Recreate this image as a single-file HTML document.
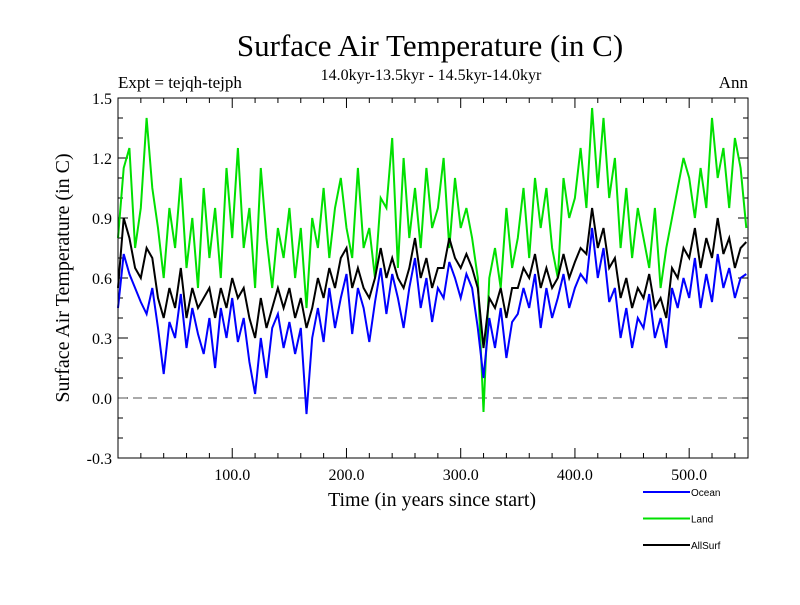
<!DOCTYPE html>
<html><head><meta charset="utf-8"><style>
body{margin:0;background:#fff}
svg text{font-family:"Liberation Serif",serif}
</style></head><body>
<svg id="chart" width="800" height="600" xmlns="http://www.w3.org/2000/svg">
<rect width="800" height="600" fill="#fff"/>
<text x="430" y="56" font-size="31" text-anchor="middle">Surface Air Temperature (in C)</text>
<text x="431" y="80" font-size="16" text-anchor="middle">14.0kyr-13.5kyr - 14.5kyr-14.0kyr</text>
<text x="118" y="88" font-size="17">Expt = tejqh-tejph</text>
<text x="748" y="88" font-size="17" text-anchor="end">Ann</text>
<text x="432" y="506" font-size="20" text-anchor="middle">Time (in years since start)</text>
<text transform="translate(69,278) rotate(-90)" font-size="20" text-anchor="middle">Surface Air Temperature (in C)</text>
<g id="ticks"></g>
<g id="series"></g>
<rect x="118" y="98" width="630" height="360" fill="none" stroke="#000" stroke-width="1"/>
<g id="legend"></g>
</svg>
<script>
const years = [];
for (let i = 0; i <= 110; i++) years.push(i * 5);
const ocean = [0.45,0.72,0.62,0.55,0.48,0.42,0.55,0.35,0.12,0.38,
0.30,0.52,0.25,0.45,0.32,0.22,0.40,0.15,0.45,0.30,
0.50,0.28,0.40,0.18,0.02,0.30,0.10,0.35,0.42,0.25,
0.38,0.22,0.35,-0.08,0.30,0.45,0.28,0.55,0.35,0.50,
0.62,0.32,0.55,0.45,0.28,0.48,0.65,0.42,0.62,0.50,
0.35,0.55,0.70,0.45,0.60,0.38,0.55,0.50,0.68,0.60,
0.50,0.62,0.55,0.35,0.10,0.40,0.25,0.45,0.20,0.38,
0.42,0.55,0.45,0.62,0.35,0.55,0.40,0.50,0.62,0.45,
0.55,0.62,0.58,0.85,0.60,0.75,0.48,0.55,0.30,0.45,
0.25,0.40,0.35,0.52,0.30,0.40,0.25,0.55,0.45,0.60,
0.50,0.70,0.45,0.62,0.48,0.72,0.55,0.65,0.50,0.60,0.62];
const land = [0.80,1.15,1.25,0.75,0.95,1.40,1.05,0.85,0.60,0.95,
0.75,1.10,0.65,0.90,0.55,1.05,0.70,0.95,0.60,1.15,
0.80,1.25,0.75,0.95,0.55,1.15,0.80,0.55,0.85,0.70,
0.95,0.60,0.85,0.45,0.90,0.75,1.05,0.70,0.95,1.10,
0.85,0.70,1.15,0.75,0.85,0.60,1.00,0.95,1.30,0.65,
1.20,0.80,1.05,0.75,1.15,0.85,0.95,1.20,0.75,1.10,
0.85,0.95,0.80,0.60,-0.07,0.60,0.75,0.55,0.95,0.65,
0.80,1.05,0.70,1.10,0.85,1.05,0.75,0.60,1.10,0.90,
1.00,1.25,0.95,1.45,1.05,1.40,1.00,1.20,0.75,1.05,
0.70,0.95,0.80,0.65,0.95,0.55,0.75,0.90,1.05,1.20,
1.10,0.90,1.15,0.95,1.40,1.10,1.25,0.95,1.30,1.15,0.85];
const allsurf = [0.55,0.90,0.80,0.65,0.60,0.75,0.70,0.50,0.40,0.55,
0.45,0.65,0.40,0.55,0.45,0.50,0.55,0.40,0.55,0.45,
0.60,0.50,0.55,0.40,0.30,0.50,0.35,0.45,0.55,0.45,
0.55,0.40,0.50,0.35,0.45,0.60,0.50,0.65,0.55,0.70,
0.75,0.55,0.65,0.55,0.50,0.60,0.75,0.60,0.70,0.60,
0.55,0.65,0.80,0.60,0.70,0.55,0.65,0.65,0.80,0.70,
0.65,0.72,0.65,0.55,0.25,0.50,0.45,0.55,0.40,0.55,
0.55,0.65,0.60,0.72,0.55,0.65,0.55,0.60,0.72,0.60,
0.68,0.75,0.72,0.95,0.75,0.85,0.65,0.70,0.50,0.60,
0.45,0.55,0.50,0.62,0.45,0.50,0.40,0.65,0.60,0.75,
0.70,0.85,0.65,0.80,0.70,0.90,0.72,0.80,0.65,0.75,0.78];
const yTickLabels = ["-0.3","0.0","0.3","0.6","0.9","1.2","1.5"];
const xTickLabels = ["100.0","200.0","300.0","400.0","500.0"];
const seriesNames = ["Ocean","Land","AllSurf"];

const X0=118, X1=748, Y0=458, Y1=98;
function xs(t){return X0 + (t/551.5)*(X1-X0);}
function ys(v){return Y0 - (v+0.3)/1.8*(Y0-Y1);}
const NS="http://www.w3.org/2000/svg";
function mk(tag,attrs,parent){const e=document.createElementNS(NS,tag);for(const k in attrs)e.setAttribute(k,attrs[k]);parent.appendChild(e);return e;}
const tg=document.getElementById('ticks');
// y ticks
for(let k=-3;k<=15;k++){
  const v=k/10, y=ys(v), major=(k%3===0), L=major?10:5;
  const a=mk('line',{x1:X0,y1:y,x2:X0+L,y2:y,stroke:'#000'},tg);
  
  
  const b=mk('line',{x1:X1,y1:y,x2:X1-L,y2:y,stroke:'#000'},tg);
  
  
}
yTickLabels.forEach(s=>{
  const t=mk('text',{x:X0-6,y:ys(parseFloat(s))+6,'font-size':16,'text-anchor':'end'},tg);
  t.textContent=s;
  
  
});
for(let t=20;t<=540;t+=20){
  const x=xs(t), major=(t%100===0), L=major?10:5;
  const a=mk('line',{x1:x,y1:Y0,x2:x,y2:Y0-L,stroke:'#000'},tg);
  
  
  const b=mk('line',{x1:x,y1:Y1,x2:x,y2:Y1+L,stroke:'#000'},tg);
  
  
}
xTickLabels.forEach(s=>{
  const t=mk('text',{x:xs(parseFloat(s)),y:Y0+22,'font-size':16,'text-anchor':'middle'},tg);
  t.textContent=s;
  
  
});
const sg=document.getElementById('series');
const zl=mk('line',{x1:X0,y1:ys(0),x2:X1,y2:ys(0),stroke:'#555','stroke-dasharray':'9,6'},sg);


function drawLine(vals,color,name){
  const d=vals.map((v,i)=>(i?'L':'M')+xs(years[i]).toFixed(1)+','+ys(v).toFixed(1)).join('');
  const p=mk('path',{d:d,fill:'none',stroke:color,'stroke-width':2},sg);
  
  
}
drawLine(land,'#00e000','land-line');
drawLine(ocean,'#0000ff','ocean-line');
drawLine(allsurf,'#000000','allsurf-line');
const lg=document.getElementById('legend');
const cols=['#0000ff','#00e000','#000000'];
seriesNames.forEach((n,i)=>{
  const y=492+i*26.5;
  const l=mk('line',{x1:643,y1:y,x2:690,y2:y,stroke:cols[i],'stroke-width':2},lg);
  
  
  const t=mk('text',{x:691,y:y+4,'font-size':10,style:'font-family:"Liberation Sans",sans-serif'},lg);
  t.textContent=n;
  
  
});
</script>
</body></html>
